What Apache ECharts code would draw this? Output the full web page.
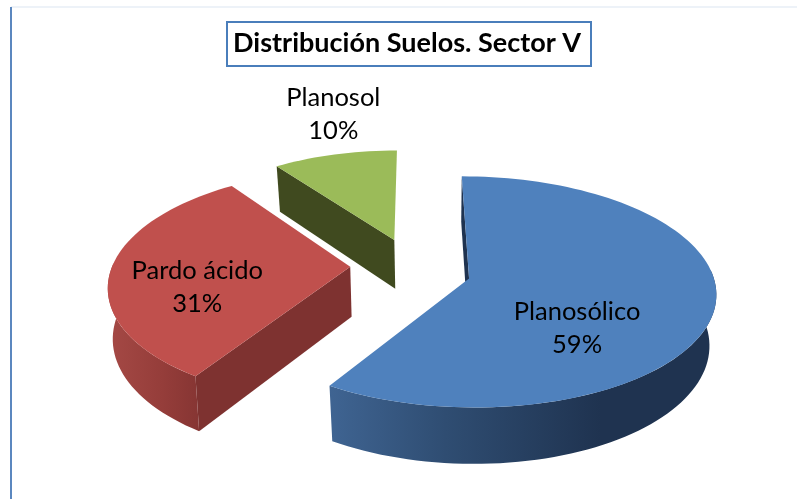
<!DOCTYPE html>
<html><head><meta charset="utf-8">
<style>html,body{margin:0;padding:0;background:#fff}#c{width:797px;height:499px}</style>
<script src="https://cdn.jsdelivr.net/npm/echarts@6/dist/echarts.min.js"></script>
</head><body><div id="c"></div>
<script>
const titleText = 'Distribución Suelos. Sector V';
const categories = ['Planosólico', 'Pardo ácido', 'Planosol'];
const values = [59, 31, 10];
const topColors = ['#4f81bd', '#c0504d', '#9bbb59'];
const sideColors = ['#1f3350', '#7e3230', '#404a1f'];
const wallStops = [
  [[0, '#3f6492'], [0.3, '#2f4d72'], [0.7, '#1f3350'], [1, '#1f3350']],
  [[0, '#a54945'], [0.6, '#953d3a'], [1, '#863533']],
  [[0, '#404a1f'], [1, '#404a1f']]
];
const labelOffsets = [[108, 50], [-153, 20], [-61, -126]];
const angleShift = [0.8, 3, 1];
const radiusScale = [0.978, 0.96, 0.9];
const depthScale = [1.02, 1.05, 1.01];
const apexNudge = [[3, -1], [0, -7], [4, -8]];
const rimNudge = [[2, 0], [0, -1], [5, -8]];
const bottomScale = [0.975, 0.985, 0.98];

const view = {cx: 409, cy: 272.5, R: 250, A: 113, k: 0.107, explode: 0.235, H: 50, bottomCx: 440, startAngle: -1};
const total = values.reduce((a, b) => a + b, 0);

function project(idx, x, y, bottom, n) {
  const s = 1 / (1 - view.k * y);
  const X = view.cx + view.R * x * s + n[0];
  if (!bottom) return [X, view.cy + view.A * y * s + n[1]];
  return [view.bottomCx + (X - view.bottomCx) * bottomScale[idx], view.cy + (view.A * y + view.H) * s + n[1]];
}
function rim(idx, a0, a1, ex, ey, bottom) {
  const pts = [], n = Math.max(2, Math.ceil(Math.abs(a1 - a0) / 2)), r = radiusScale[idx], d = depthScale[idx];
  for (let i = 0; i <= n; i++) {
    const a = (a0 + (a1 - a0) * i / n) * Math.PI / 180;
    pts.push(project(idx, ex + r * Math.sin(a), ey - r * d * Math.cos(a), bottom, rimNudge[idx]));
  }
  return pts;
}
function renderItem(params, api) {
  const idx = params.dataIndex;
  const val = api.value(0);
  let before = 0;
  for (let i = 0; i < idx; i++) before += values[i];
  const b0 = view.startAngle + before / total * 360;
  const b1 = b0 + val / total * 360;
  const mid = (b0 + b1) / 2 * Math.PI / 180;
  const a0 = b0 + angleShift[idx], a1 = b1 + angleShift[idx];
  const ex = view.explode * Math.sin(mid), ey = -view.explode * Math.cos(mid);
  const apex = project(idx, ex, ey, false, apexNudge[idx]), apexB = project(idx, ex, ey, true, apexNudge[idx]);
  const children = [];
  const t = rim(idx, a0, a0, ex, ey, false)[0], b = rim(idx, a0, a0, ex, ey, true)[0];
  children.push({type: 'polygon', shape: {points: [apex, t, b, apexB]}, style: {fill: sideColors[idx]}});
  const w0 = Math.max(a0, 85), w1 = Math.min(a1, 275);
  if (w1 > w0) {
    const pts = rim(idx, w0, w1, ex, ey, false).concat(rim(idx, w0, w1, ex, ey, true).reverse());
    children.push({type: 'polygon', shape: {points: pts}, style: {
      fill: new echarts.graphic.LinearGradient(0, 0, 1, 0, wallStops[idx].map(s => ({offset: s[0], color: s[1]})))
    }});
  }
  children.push({type: 'polygon', shape: {points: [apex].concat(rim(idx, a0, a1, ex, ey, false))}, style: {fill: topColors[idx]}});
  const off = labelOffsets[idx];
  children.push({type: 'text', z2: 10, style: {
    x: apex[0] + off[0], y: apex[1] + off[1],
    text: api.value(1) + '\n' + Math.round(val / total * 100) + '%',
    font: '25.5px Lato', fill: '#000', align: 'center', verticalAlign: 'middle', lineHeight: 33
  }});
  return {type: 'group', children};
}
const chart = echarts.init(document.getElementById('c'), null, {renderer: 'canvas'});
chart.setOption({
  animation: false,
  backgroundColor: '#ffffff',
  title: {
    text: titleText, left: 227, top: 22, borderColor: '#4a7ebb', borderWidth: 2,
    padding: [8, 10, 9, 6],
    textStyle: {fontFamily: 'Lato', fontWeight: 'bold', fontSize: 27, color: '#000'}
  },
  graphic: [
    {type: 'line', shape: {x1: 11, y1: 7, x2: 797, y2: 7}, style: {stroke: '#dbe5f1', lineWidth: 1}},
    {type: 'line', shape: {x1: 11, y1: 7, x2: 11, y2: 499}, style: {stroke: '#5b87bf', lineWidth: 2}}
  ],
  series: [{
    type: 'custom', coordinateSystem: 'none', renderItem,
    data: categories.map((c, i) => [values[i], c]),
    silent: true, clip: false
  }]
});
</script></body></html>
